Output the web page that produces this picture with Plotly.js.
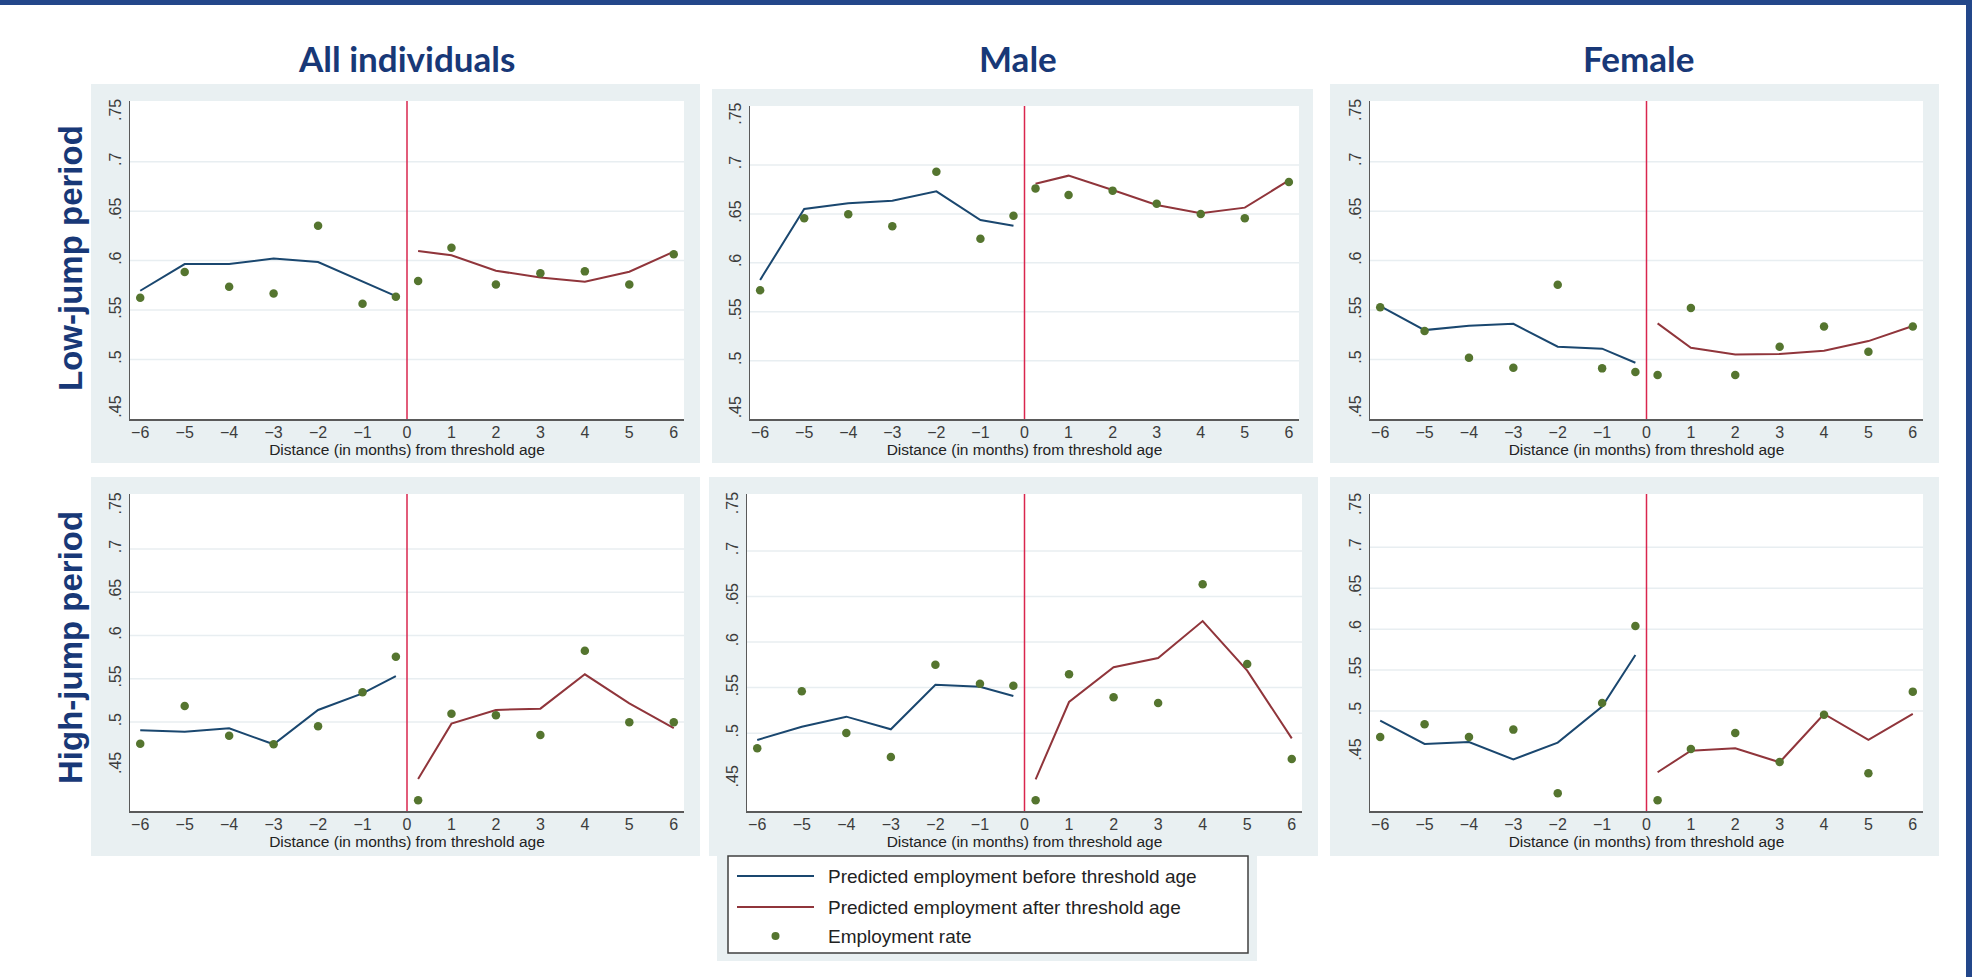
<!DOCTYPE html>
<html><head><meta charset="utf-8">
<script src="https://cdn.plot.ly/plotly-3.0.1.min.js"></script>
<style>html,body{margin:0;padding:0;background:#fff;overflow:hidden}#chart{width:1972px;height:977px}</style>
</head><body><div id="chart"></div>
<script>
// ---------- text ----------
const colTitles = ['All individuals', 'Male', 'Female'];
const rowTitles = ['Low-jump period', 'High-jump period'];
const xAxisTitle = 'Distance (in months) from threshold age';
const legendLabels = ['Predicted employment before threshold age', 'Predicted employment after threshold age', 'Employment rate'];

// ---------- axes ----------
const xBefore = [-6, -5, -4, -3, -2, -1, -0.25];
const xAfter = [0.25, 1, 2, 3, 4, 5, 6];
const xRate = [-6, -5, -4, -3, -2, -1, -0.25, 0.25, 1, 2, 3, 4, 5, 6];
const xTickVals = [-6, -5, -4, -3, -2, -1, 0, 1, 2, 3, 4, 5, 6];
const yTickVals = [0.45, 0.5, 0.55, 0.6, 0.65, 0.7, 0.75];
const yTickText = ['.45', '.5', '.55', '.6', '.65', '.7', '.75'];
const gridVals = [0.5, 0.55, 0.6, 0.65, 0.7];
const thresholdX = 0;

// ---------- values ----------
// Low-jump period
const allLowBefore = [0.5695, 0.5965, 0.5965, 0.6022, 0.5985, 0.5786, 0.5641];
const allLowAfter  = [0.6096, 0.6053, 0.5897, 0.5830, 0.5786, 0.5887, 0.6090];
const allLowRate   = [0.5624, 0.5884, 0.5736, 0.5668, 0.6353, 0.5564, 0.5634, 0.5793, 0.6130, 0.5759, 0.5871, 0.5891, 0.5759, 0.6063];

const maleLowBefore = [0.5825, 0.6550, 0.6608, 0.6635, 0.6731, 0.6438, 0.6380];
const maleLowAfter  = [0.6809, 0.6891, 0.6744, 0.6591, 0.6506, 0.6564, 0.6843];
const maleLowRate   = [0.5719, 0.6455, 0.6496, 0.6373, 0.6932, 0.6247, 0.6482, 0.6761, 0.6693, 0.6738, 0.6605, 0.6499, 0.6455, 0.6826];

const femaleLowBefore = [0.5540, 0.5297, 0.5341, 0.5361, 0.5129, 0.5109, 0.4967];
const femaleLowAfter  = [0.5365, 0.5119, 0.5051, 0.5055, 0.5088, 0.5186, 0.5338];
const femaleLowRate   = [0.5527, 0.5287, 0.5018, 0.4916, 0.5756, 0.4910, 0.4873, 0.4842, 0.5520, 0.4842, 0.5129, 0.5334, 0.5078, 0.5334];

// High-jump period
const allHighBefore = [0.4905, 0.4889, 0.4928, 0.4743, 0.5140, 0.5332, 0.5532];
const allHighAfter  = [0.4342, 0.4982, 0.5140, 0.5155, 0.5552, 0.5216, 0.4931];
const allHighRate   = [0.4750, 0.5186, 0.4843, 0.4743, 0.4951, 0.5344, 0.5756, 0.4096, 0.5097, 0.5078, 0.4851, 0.5825, 0.4997, 0.4997];

const maleHighBefore = [0.4925, 0.5071, 0.5181, 0.5042, 0.5532, 0.5510, 0.5408];
const maleHighAfter  = [0.4493, 0.5342, 0.5723, 0.5825, 0.6231, 0.5686, 0.4943];
const maleHighRate   = [0.4833, 0.5459, 0.5001, 0.4738, 0.5752, 0.5543, 0.5521, 0.4262, 0.5646, 0.5393, 0.5331, 0.6634, 0.5759, 0.4716];

const femaleHighBefore = [0.4883, 0.4598, 0.4622, 0.4410, 0.4614, 0.5054, 0.5685];
const femaleHighAfter  = [0.4252, 0.4516, 0.4545, 0.4374, 0.4964, 0.4647, 0.4964];
const femaleHighRate   = [0.4683, 0.4838, 0.4683, 0.4773, 0.3995, 0.5099, 0.6039, 0.3910, 0.4537, 0.4732, 0.4378, 0.4956, 0.4239, 0.5237];

// ---------- styles / layout geometry ----------
const W = 1972, H = 977;
const C = {
  before: '#1a476f', after: '#90353b', dot: '#55752f', vline: '#d9264e',
  panelBg: '#e9f0f2', grid: '#e8eef1', axis: '#5a5a5a', tick: '#3c3c3c',
  title: '#183877', frame: '#23478a', legendBorder: '#404040'
};
const FONT = 'Liberation Sans, Arial, sans-serif';
// panel geometry in px: plot = [left, top, right, bottom], bg = [left, top, right, bottom]
const panelGeo = [
  {plot: [130, 101, 684, 419], bg: [91, 84, 700, 463], yr: [0.4398, 0.7614]},
  {plot: [750, 106, 1299, 419], bg: [712, 89, 1313, 463], yr: [0.4404, 0.7603]},
  {plot: [1370, 101, 1923, 419], bg: [1330, 84, 1939, 463], yr: [0.4398, 0.7614]},
  {plot: [130, 494, 684, 811], bg: [91, 477, 700, 856], yr: [0.3972, 0.7636]},
  {plot: [747, 494, 1302, 811], bg: [709, 477, 1318, 856], yr: [0.4145, 0.7626]},
  {plot: [1370, 494, 1923, 811], bg: [1330, 477, 1939, 856], yr: [0.3779, 0.7651]}
];
const xRange = [-6.23, 6.23];
const colTitleX = [406, 1018, 1638], colTitleY = 58;
const rowTitleX = 70, rowTitleY = [258, 648];

const panelData = [
  [allLowBefore, allLowAfter, allLowRate],
  [maleLowBefore, maleLowAfter, maleLowRate],
  [femaleLowBefore, femaleLowAfter, femaleLowRate],
  [allHighBefore, allHighAfter, allHighRate],
  [maleHighBefore, maleHighAfter, maleHighRate],
  [femaleHighBefore, femaleHighAfter, femaleHighRate]
];

const px = x => x / W;
const py = y => 1 - y / H;

const traces = [];
const shapes = [];
const annotations = [];
const layout = {
  width: W, height: H,
  margin: {l: 0, r: 0, t: 0, b: 0},
  paper_bgcolor: '#ffffff',
  plot_bgcolor: 'rgba(0,0,0,0)',
  showlegend: false,
  font: {family: FONT, color: C.tick}
};

// frame bars
shapes.push({type: 'rect', xref: 'paper', yref: 'paper', x0: 0, x1: 1, y0: py(5), y1: 1, fillcolor: C.frame, line: {width: 0}, layer: 'below'});
shapes.push({type: 'rect', xref: 'paper', yref: 'paper', x0: px(1966), x1: 1, y0: 0, y1: 1, fillcolor: C.frame, line: {width: 0}, layer: 'below'});

panelData.forEach((d, i) => {
  const g = panelGeo[i];
  const s = i === 0 ? '' : String(i + 1);
  // panel background + white plot area
  shapes.push({type: 'rect', xref: 'paper', yref: 'paper', x0: px(g.bg[0]), x1: px(g.bg[2]), y0: py(g.bg[3]), y1: py(g.bg[1]), fillcolor: C.panelBg, line: {width: 0}, layer: 'below'});
  shapes.push({type: 'rect', xref: 'paper', yref: 'paper', x0: px(g.plot[0]), x1: px(g.plot[2]), y0: py(g.plot[3]), y1: py(g.plot[1]), fillcolor: '#ffffff', line: {width: 0}, layer: 'below'});
  // gridlines
  gridVals.forEach(v => shapes.push({type: 'line', xref: 'x' + s + ' domain', yref: 'y' + s, x0: 0, x1: 1, y0: v, y1: v, line: {color: C.grid, width: 1.5}, layer: 'below'}));
  // threshold line
  shapes.push({type: 'line', xref: 'x' + s, yref: 'y' + s + ' domain', x0: thresholdX, x1: thresholdX, y0: 0, y1: 1, line: {color: C.vline, width: 1.5}, layer: 'below'});

  traces.push({x: xBefore, y: d[0], xaxis: 'x' + s, yaxis: 'y' + s, mode: 'lines', name: legendLabels[0], line: {color: C.before, width: 2}, hoverinfo: 'skip'});
  traces.push({x: xAfter, y: d[1], xaxis: 'x' + s, yaxis: 'y' + s, mode: 'lines', name: legendLabels[1], line: {color: C.after, width: 2}, hoverinfo: 'skip'});
  traces.push({x: xRate, y: d[2], xaxis: 'x' + s, yaxis: 'y' + s, mode: 'markers', name: legendLabels[2], marker: {color: C.dot, size: 8.5}, hoverinfo: 'skip'});

  layout['xaxis' + s] = {
    domain: [px(g.plot[0]), px(g.plot[2])], range: xRange, anchor: 'y' + s,
    tickmode: 'array', tickvals: xTickVals, showgrid: false, zeroline: false,
    showline: true, linecolor: C.axis, linewidth: 1.5, ticks: '', ticklabelstandoff: -2,
    tickfont: {family: FONT, size: 16, color: C.tick},
    title: {text: xAxisTitle, font: {family: FONT, size: 15.5, color: '#222'}, standoff: 1},
    fixedrange: true
  };
  layout['yaxis' + s] = {
    domain: [py(g.plot[3]), py(g.plot[1])], range: g.yr, anchor: 'x' + s,
    tickmode: 'array', tickvals: yTickVals, ticktext: yTickText, tickangle: -90,
    showgrid: false, zeroline: false, showline: true, linecolor: C.axis, linewidth: 1.5,
    ticks: '', ticklabelstandoff: 1,
    tickfont: {family: FONT, size: 16, color: C.tick}, fixedrange: true
  };
});

// column & row titles
colTitles.forEach((t, j) => annotations.push({text: '<b>' + t + '</b>', xref: 'paper', yref: 'paper', x: px(colTitleX[j]), y: py(colTitleY), xanchor: 'center', yanchor: 'middle', showarrow: false, font: {family: 'Lato, Open Sans, sans-serif', size: 35, color: C.title}}));
rowTitles.forEach((t, j) => annotations.push({text: '<b>' + t + '</b>', xref: 'paper', yref: 'paper', x: px(rowTitleX), y: py(rowTitleY[j]), xanchor: 'center', yanchor: 'middle', textangle: -90, showarrow: false, font: {family: FONT, size: 33, color: C.title}}));

// legend (drawn box)
const LG = {outer: [717, 856, 1257, 961], box: [728, 856, 1248, 953], sw: [737, 814], textX: 826, rows: [876, 907, 936]};
shapes.push({type: 'rect', xref: 'paper', yref: 'paper', x0: px(LG.outer[0]), x1: px(LG.outer[2]), y0: py(LG.outer[3]), y1: py(LG.outer[1]), fillcolor: C.panelBg, line: {width: 0}, layer: 'below'});
shapes.push({type: 'rect', xref: 'paper', yref: 'paper', x0: px(LG.box[0]), x1: px(LG.box[2]), y0: py(LG.box[3]), y1: py(LG.box[1]), fillcolor: '#ffffff', line: {color: C.legendBorder, width: 1.5}, layer: 'below'});
shapes.push({type: 'line', xref: 'paper', yref: 'paper', x0: px(LG.sw[0]), x1: px(LG.sw[1]), y0: py(LG.rows[0]), y1: py(LG.rows[0]), line: {color: C.before, width: 2}});
shapes.push({type: 'line', xref: 'paper', yref: 'paper', x0: px(LG.sw[0]), x1: px(LG.sw[1]), y0: py(LG.rows[1]), y1: py(LG.rows[1]), line: {color: C.after, width: 2}});
const cx = (LG.sw[0] + LG.sw[1]) / 2;
shapes.push({type: 'circle', xref: 'paper', yref: 'paper', x0: px(cx - 4), x1: px(cx + 4), y0: py(LG.rows[2] + 4), y1: py(LG.rows[2] - 4), fillcolor: C.dot, line: {width: 0}});
legendLabels.forEach((t, k) => annotations.push({text: t, xref: 'paper', yref: 'paper', x: px(LG.textX), y: py(LG.rows[k]), xanchor: 'left', yanchor: 'middle', showarrow: false, font: {family: FONT, size: 19, color: '#222'}}));

layout.shapes = shapes;
layout.annotations = annotations;

Plotly.newPlot('chart', traces, layout, {staticPlot: true, displayModeBar: false});
</script>
</body></html>
